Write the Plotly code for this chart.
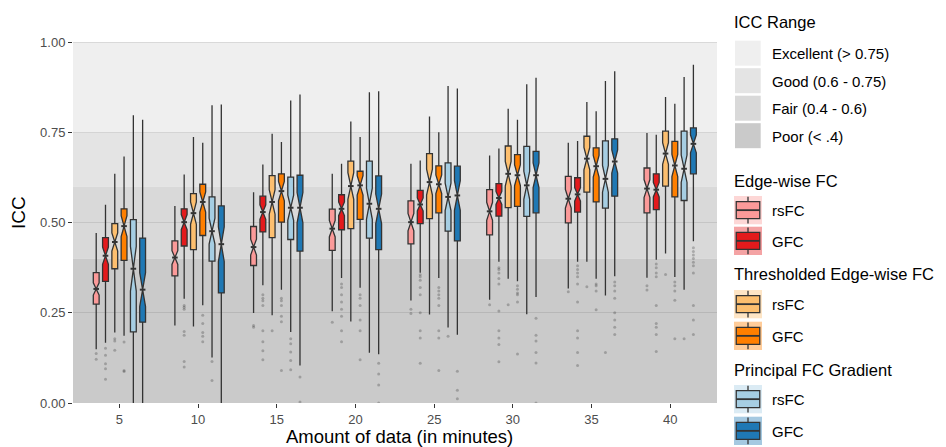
import plotly.graph_objects as go

# ---------------- data ----------------
durations = ["5", "10", "15", "20", "25", "30", "35", "40"]

# Edge-wise FC, rsFC
edge_rs_lower = [0.149, 0.215, 0.249, 0.254, 0.284, 0.286, 0.317, 0.347]
edge_rs_q1 = [0.274, 0.352, 0.381, 0.423, 0.441, 0.466, 0.499, 0.527]
edge_rs_med = [0.316, 0.403, 0.432, 0.483, 0.501, 0.531, 0.566, 0.594]
edge_rs_q3 = [0.361, 0.449, 0.489, 0.537, 0.560, 0.591, 0.628, 0.651]
edge_rs_upper = [0.471, 0.546, 0.584, 0.635, 0.663, 0.686, 0.721, 0.748]
edge_rs_notch = [0.017, 0.019, 0.022, 0.023, 0.024, 0.025, 0.026, 0.025]
edge_rs_out = [[0.137, 0.121], [], [0.215, 0.21], [0.224], [0.26, 0.248],
               [0.272], [0.308], [0.325, 0.313]]

# Edge-wise FC, GFC
edge_g_lower = [0.167, 0.289, 0.326, 0.346, 0.361, 0.391, 0.391, 0.397]
edge_g_q1 = [0.337, 0.435, 0.474, 0.480, 0.497, 0.518, 0.529, 0.536]
edge_g_med = [0.408, 0.501, 0.529, 0.538, 0.550, 0.568, 0.578, 0.591]
edge_g_q3 = [0.458, 0.538, 0.573, 0.577, 0.589, 0.608, 0.624, 0.635]
edge_g_upper = [0.549, 0.633, 0.661, 0.663, 0.672, 0.705, 0.726, 0.743]
edge_g_notch = [0.024, 0.021, 0.020, 0.019, 0.018, 0.018, 0.019, 0.020]
edge_g_out = [[0.152, 0.132, 0.109, 0.095, 0.066],
              [0.27, 0.265, 0.26, 0.198, 0.188, 0.115, 0.10],
              [0.30, 0.29, 0.283, 0.27, 0.20, 0.17, 0.145, 0.12],
              [0.33, 0.32, 0.30, 0.28, 0.26, 0.24, 0.20, 0.17],
              [0.355, 0.35, 0.34, 0.32, 0.30, 0.25, 0.20, 0.18, 0.11],
              [0.375, 0.37, 0.36, 0.345, 0.33, 0.255, 0.20, 0.18, 0.162, 0.114],
              [0.38, 0.37, 0.36, 0.35, 0.33, 0.28, 0.20, 0.18, 0.14, 0.104],
              [0.385, 0.375, 0.36, 0.35, 0.27, 0.22, 0.21, 0.19, 0.143]]

# Thresholded Edge-wise FC, rsFC
thr_rs_lower = [0.195, 0.212, 0.243, 0.226, 0.245, 0.344, 0.391, 0.414]
thr_rs_q1 = [0.372, 0.425, 0.458, 0.483, 0.511, 0.541, 0.584, 0.601]
thr_rs_med = [0.446, 0.526, 0.557, 0.601, 0.612, 0.635, 0.677, 0.691]
thr_rs_q3 = [0.497, 0.580, 0.630, 0.670, 0.691, 0.712, 0.739, 0.753]
thr_rs_upper = [0.635, 0.737, 0.746, 0.780, 0.794, 0.815, 0.834, 0.848]
thr_rs_notch = [0.025, 0.031, 0.034, 0.037, 0.036, 0.034, 0.031, 0.030]
thr_rs_out = [[0.178, 0.172, 0.146], [], [0.20], [], [], [0.272], [0.322], [0.356]]

# Thresholded Edge-wise FC, GFC
thr_g_lower = [0.186, 0.271, 0.314, 0.319, 0.346, 0.337, 0.344, 0.349]
thr_g_q1 = [0.395, 0.464, 0.501, 0.509, 0.527, 0.545, 0.557, 0.571]
thr_g_med = [0.490, 0.557, 0.587, 0.603, 0.606, 0.631, 0.656, 0.658]
thr_g_q3 = [0.538, 0.606, 0.635, 0.642, 0.657, 0.688, 0.707, 0.725]
thr_g_upper = [0.683, 0.721, 0.723, 0.737, 0.750, 0.785, 0.808, 0.829]
thr_g_notch = [0.029, 0.028, 0.027, 0.027, 0.026, 0.029, 0.030, 0.031]
thr_g_out = [[0.169, 0.09, 0.087],
             [0.243, 0.22, 0.195, 0.185, 0.17],
             [0.29, 0.283, 0.27, 0.24, 0.225, 0.09],
             [0.30, 0.29, 0.27, 0.23, 0.20, 0.12],
             [0.32, 0.31, 0.30, 0.29, 0.27, 0.20, 0.18, 0.09],
             [0.325, 0.315, 0.305, 0.30, 0.28, 0.136],
             [0.33, 0.325, 0.31, 0.258],
             [0.335, 0.325, 0.31, 0.285, 0.178]]

# Principal FC Gradient, rsFC
grad_rs_lower = [0.0, 0.126, 0.197, 0.139, 0.209, 0.246, 0.298, 0.314]
grad_rs_q1 = [0.197, 0.393, 0.453, 0.457, 0.476, 0.517, 0.540, 0.561]
grad_rs_med = [0.372, 0.476, 0.541, 0.552, 0.571, 0.603, 0.621, 0.649]
grad_rs_q3 = [0.508, 0.571, 0.626, 0.670, 0.665, 0.711, 0.726, 0.753]
grad_rs_upper = [0.797, 0.825, 0.838, 0.861, 0.878, 0.883, 0.892, 0.903]
grad_rs_notch = [0.062, 0.036, 0.035, 0.043, 0.038, 0.039, 0.037, 0.038]
grad_rs_out = [[], [0.115, 0.062], [0.178, 0.164, 0.141, 0.118, 0.092], [],
               [0.185], [], [0.14], [0.178]]

# Principal FC Gradient, GFC
grad_g_lower = [0.0, 0.0, 0.104, 0.135, 0.189, 0.294, 0.351, 0.448]
grad_g_q1 = [0.224, 0.305, 0.421, 0.425, 0.449, 0.527, 0.573, 0.635]
grad_g_med = [0.314, 0.440, 0.541, 0.538, 0.575, 0.631, 0.669, 0.718]
grad_g_q3 = [0.457, 0.546, 0.631, 0.629, 0.656, 0.697, 0.732, 0.762]
grad_g_upper = [0.785, 0.827, 0.855, 0.864, 0.871, 0.901, 0.919, 0.937]
grad_g_notch = [0.047, 0.048, 0.042, 0.041, 0.041, 0.034, 0.032, 0.025]
grad_g_out = [[], [], [0.072, 0.003], [0.11, 0.08, 0.05, 0.0],
              [0.088, 0.035, 0.012],
              [0.235, 0.188, 0.172, 0.14, 0.111, 0.0],
              [0.335, 0.325, 0.31, 0.29, 0.25, 0.23, 0.21, 0.19],
              [0.43, 0.42, 0.41, 0.40, 0.39, 0.38, 0.36, 0.27, 0.23, 0.19]]

series_colors = ["#FB9A99", "#E31A1C", "#FDBF6F", "#FF7F00", "#A6CEE3", "#1F78B4"]
series_labels = ["rsFC", "GFC", "rsFC", "GFC", "rsFC", "GFC"]
group_titles = ["Edge-wise FC", "Thresholded Edge-wise FC", "Principal FC Gradient"]

icc_labels = ["Excellent (> 0.75)", "Good (0.6 - 0.75)", "Fair (0.4 - 0.6)", "Poor (< .4)"]
icc_lo = [0.75, 0.6, 0.4, 0.0]
icc_hi = [1.0, 0.75, 0.6, 0.4]
icc_colors = ["#EFEFEF", "#E4E4E4", "#D9D9D9", "#CACACA"]

y_ticks = [0.0, 0.25, 0.5, 0.75, 1.0]

series = [
    (edge_rs_lower, edge_rs_q1, edge_rs_med, edge_rs_q3, edge_rs_upper, edge_rs_notch, edge_rs_out),
    (edge_g_lower, edge_g_q1, edge_g_med, edge_g_q3, edge_g_upper, edge_g_notch, edge_g_out),
    (thr_rs_lower, thr_rs_q1, thr_rs_med, thr_rs_q3, thr_rs_upper, thr_rs_notch, thr_rs_out),
    (thr_g_lower, thr_g_q1, thr_g_med, thr_g_q3, thr_g_upper, thr_g_notch, thr_g_out),
    (grad_rs_lower, grad_rs_q1, grad_rs_med, grad_rs_q3, grad_rs_upper, grad_rs_notch, grad_rs_out),
    (grad_g_lower, grad_g_q1, grad_g_med, grad_g_q3, grad_g_upper, grad_g_notch, grad_g_out),
]

# ---------------- layout geometry ----------------
# the page body has an 8px margin, so the figure is placed at (8, 8) in the window
OX, OY = 8, 8
W, H = 946 - OX, 447 - OY
L, R, T, B = 65, 229, 16, 44
PW, PH = W - L - R, H - T - B
FONT = "Liberation Sans, Arial, Helvetica, sans-serif"
EDGE = "#333333"
DODGE = 0.118
BOXW = 0.074


def fx(px):
    # window pixel x -> paper fraction
    return (px - OX - L) / PW


def fy(py):
    # window pixel y -> paper fraction
    return (H - B - (py - OY)) / PH


def rgba(hexc, a):
    h = hexc.lstrip("#")
    r, g, b = int(h[0:2], 16), int(h[2:4], 16), int(h[4:6], 16)
    return f"rgba({r},{g},{b},{a})"


fig = go.Figure()

n = len(series)
for k, (lo, q1, med, q3, up, notch, outs) in enumerate(series):
    off = (k - (n - 1) / 2) * DODGE
    pos = [i + off for i in range(len(durations))]
    fig.add_trace(go.Box(
        x=pos, q1=q1, median=med, q3=q3, lowerfence=lo, upperfence=up,
        notchspan=notch, notched=True, notchwidth=0.5, orientation="v",
        width=BOXW, whiskerwidth=0, boxpoints=False,
        fillcolor=series_colors[k], line=dict(color=EDGE, width=1.3),
        showlegend=False, hoverinfo="skip",
    ))
    # heavier median stroke (as in ggplot's fattened median line)
    fig.add_trace(go.Scatter(
        x=pos, y=med, mode="markers",
        marker=dict(symbol="line-ew", size=4, line=dict(color=EDGE, width=2)),
        showlegend=False, hoverinfo="skip",
    ))
    ox, oy = [], []
    for i, vals in enumerate(outs):
        for v in vals:
            ox.append(i + off)
            oy.append(v)
    fig.add_trace(go.Scatter(
        x=ox, y=oy, mode="markers",
        marker=dict(size=3, color="rgba(0,0,0,0.22)", line=dict(width=0)),
        showlegend=False, hoverinfo="skip", cliponaxis=True,
    ))

shapes = []
# ICC bands
for lo, hi, c in zip(icc_lo, icc_hi, icc_colors):
    shapes.append(dict(type="rect", xref="paper", yref="y", x0=0, x1=1, y0=lo, y1=hi,
                       fillcolor=c, line=dict(width=0), layer="below"))

annotations = []
# ---- legend: ICC range ----
annotations.append(dict(text="ICC Range", xref="paper", yref="paper", x=fx(732), y=fy(22),
                        xanchor="left", yanchor="middle", showarrow=False,
                        font=dict(family=FONT, size=16.5, color="#000000")))
icc_tops = [40.7, 68.2, 95.7, 123.2]
for top, lab, c in zip(icc_tops, icc_labels, icc_colors):
    shapes.append(dict(type="rect", xref="paper", yref="paper",
                       x0=fx(735), x1=fx(760.7), y0=fy(top + 25), y1=fy(top),
                       fillcolor=c, line=dict(width=0), layer="above"))
    annotations.append(dict(text=lab, xref="paper", yref="paper", x=fx(770), y=fy(top + 13),
                            xanchor="left", yanchor="middle", showarrow=False,
                            font=dict(family=FONT, size=15, color="#000000")))

# ---- legend: box series ----
title_y = [180.7, 274, 370]
key_tops = [196, 226.7, 290, 321.7, 385, 416.7]
KS = 28.3
kx0, kx1 = 734, 762
for g, ttl in enumerate(group_titles):
    annotations.append(dict(text=ttl, xref="paper", yref="paper", x=fx(732), y=fy(title_y[g]),
                            xanchor="left", yanchor="middle", showarrow=False,
                            font=dict(family=FONT, size=16.5, color="#000000")))
for k, top in enumerate(key_tops):
    c = series_colors[k]
    bot = top + KS
    kw = kx1 - kx0
    cx = (kx0 + kx1) / 2
    shapes.append(dict(type="rect", xref="paper", yref="paper",
                       x0=fx(kx0), x1=fx(kx1), y0=fy(bot), y1=fy(top),
                       fillcolor=rgba(c, 0.4), line=dict(width=0), layer="above"))
    # whiskers
    shapes.append(dict(type="line", xref="paper", yref="paper", x0=fx(cx), x1=fx(cx),
                       y0=fy(top + 0.03 * KS), y1=fy(top + 0.2 * KS),
                       line=dict(color=EDGE, width=1.3), layer="above"))
    shapes.append(dict(type="line", xref="paper", yref="paper", x0=fx(cx), x1=fx(cx),
                       y0=fy(top + 0.8 * KS), y1=fy(top + 0.97 * KS),
                       line=dict(color=EDGE, width=1.3), layer="above"))
    # box
    shapes.append(dict(type="rect", xref="paper", yref="paper",
                       x0=fx(kx0 + 0.08 * kw), x1=fx(kx1 - 0.08 * kw),
                       y0=fy(top + 0.8 * KS), y1=fy(top + 0.2 * KS),
                       fillcolor=c, line=dict(color=EDGE, width=1.3), layer="above"))
    # median
    shapes.append(dict(type="line", xref="paper", yref="paper",
                       x0=fx(kx0 + 0.08 * kw), x1=fx(kx1 - 0.08 * kw),
                       y0=fy(top + 0.5 * KS), y1=fy(top + 0.5 * KS),
                       line=dict(color=EDGE, width=1.8), layer="above"))
    annotations.append(dict(text=series_labels[k], xref="paper", yref="paper", x=fx(770),
                            y=fy(top + KS / 2 + 0.5), xanchor="left", yanchor="middle",
                            showarrow=False, font=dict(family=FONT, size=15, color="#000000")))

# axis titles
annotations.append(dict(text="Amount of data (in minutes)", xref="paper", yref="paper",
                        x=fx(399), y=fy(436.5), xanchor="center", yanchor="middle",
                        showarrow=False, font=dict(family=FONT, size=18.5, color="#000000")))
annotations.append(dict(text="ICC", xref="paper", yref="paper", x=fx(18), y=fy(213),
                        xanchor="center", yanchor="middle", textangle=-90,
                        showarrow=False, font=dict(family=FONT, size=19, color="#000000")))

fig.update_layout(
    width=W, height=H,
    margin=dict(l=L, r=R, t=T, b=B, pad=0),
    paper_bgcolor="white", plot_bgcolor="white",
    showlegend=False,
    shapes=shapes, annotations=annotations,
    xaxis=dict(range=[-0.59, 7.595], tickmode="array", tickvals=list(range(len(durations))),
               ticktext=durations, showgrid=False, zeroline=False, showline=False,
               ticks="outside", ticklen=4, tickwidth=1, tickcolor=EDGE,
               tickfont=dict(family=FONT, size=13, color="#4D4D4D")),
    yaxis=dict(range=[0, 1.05], tickmode="array", tickvals=y_ticks,
               ticktext=[f"{v:.2f}" for v in y_ticks], showgrid=True,
               gridcolor="rgba(0,0,0,0.09)", gridwidth=1, zeroline=False, showline=False,
               ticks="outside", ticklen=4, tickwidth=1, tickcolor=EDGE,
               tickfont=dict(family=FONT, size=13, color="#4D4D4D")),
)

fig.write_html("out.html")
